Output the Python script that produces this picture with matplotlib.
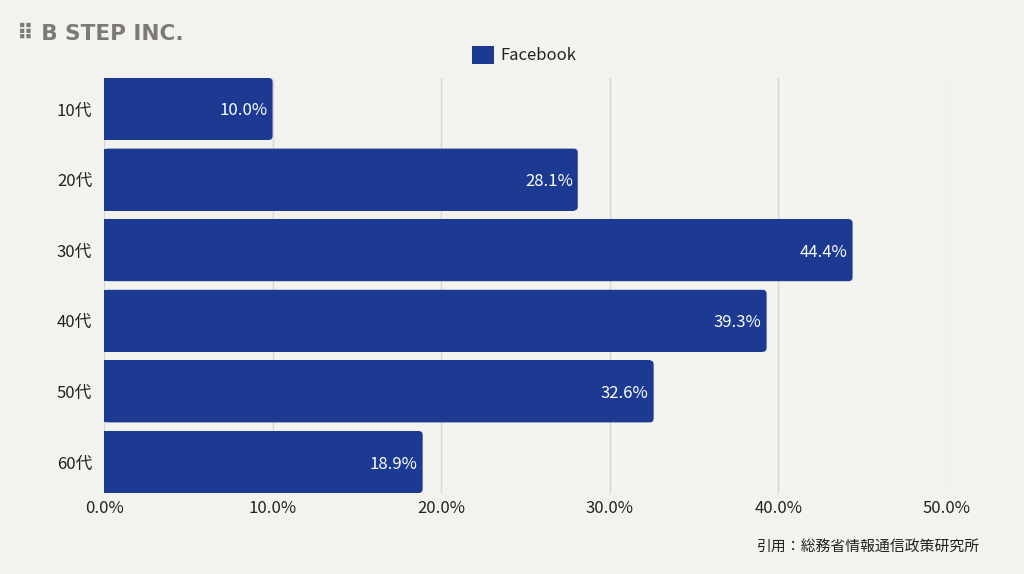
import matplotlib
matplotlib.use("Agg")
import matplotlib.pyplot as plt
from matplotlib.patches import FancyBboxPatch, Patch

plt.rcParams['font.family'] = ['Noto Sans CJK JP', 'DejaVu Sans']

categories = ["10代", "20代", "30代", "40代", "50代", "60代"]
values = [10.0, 28.1, 44.4, 39.3, 32.6, 18.9]
xticks = [0, 10, 20, 30, 40, 50]
xtick_labels = ["0.0%", "10.0%", "20.0%", "30.0%", "40.0%", "50.0%"]
series_name = "Facebook"

bg = "#f2f2ee"
bar_color = "#1c3a91"
text_color = "#222222"

fig = plt.figure(figsize=(10.24, 5.74), dpi=100, facecolor=bg)
ax = fig.add_axes([104/1024, 1-493/574, (947-104)/1024, (493-78)/574])
ax.set_facecolor(bg)

n = len(categories)
ypos = list(range(n))
h = 0.878
ax.set_xlim(0, 50)
ax.set_ylim(n - 1 + h/2, -h/2)

# rounding in data units
px_x = 50 / 843
px_y = (n - 1 + h) / 415
r = 4 * px_x
aspect = px_y / px_x
for y, v in zip(ypos, values):
    ax.barh(y, v - r, height=h, left=0, color=bar_color, zorder=3, linewidth=0)
    p = FancyBboxPatch((0, y - h/2), v, h,
                       boxstyle=f"round,pad=0,rounding_size={r}",
                       mutation_aspect=aspect, facecolor=bar_color,
                       edgecolor="none", zorder=3)
    ax.add_patch(p)
    ax.text(v - 5*px_x, y + 2*px_y, f"{v:.1f}%", ha="right", va="center",
            color="white", fontsize=12, zorder=4)

ax.set_yticks(ypos)
ax.set_yticklabels(categories, fontsize=12, color=text_color)
ax.set_xticks(xticks)
ax.set_xticklabels(xtick_labels, fontsize=12, color=text_color)
ax.tick_params(axis='x', length=0, pad=5)
ax.tick_params(axis='y', length=0, pad=8.5)
ax.grid(axis='x', color="#d6d6d2", linewidth=1, zorder=0)
for s in ["top", "right", "bottom", "left"]:
    ax.spines[s].set_visible(False)

leg = fig.legend(handles=[Patch(facecolor=bar_color, label=series_name)],
                 loc="center", bbox_to_anchor=(0.512, 1-55/574), frameon=False,
                 fontsize=12, handlelength=1.3, handleheight=1.3, handletextpad=0.4)
for t in leg.get_texts():
    t.set_color(text_color)

fig.text(17/1024, 1-34/574, "⠿ B STEP INC.", fontsize=15.5, fontweight="bold",
         color="#7d7975", va="center", ha="left", family=['DejaVu Sans'])
fig.text(980/1024, 1-548/574, "引用：総務省情報通信政策研究所", fontsize=10.7,
         color=text_color, ha="right", va="center")

fig.savefig("out.png", dpi=100, facecolor=bg)
